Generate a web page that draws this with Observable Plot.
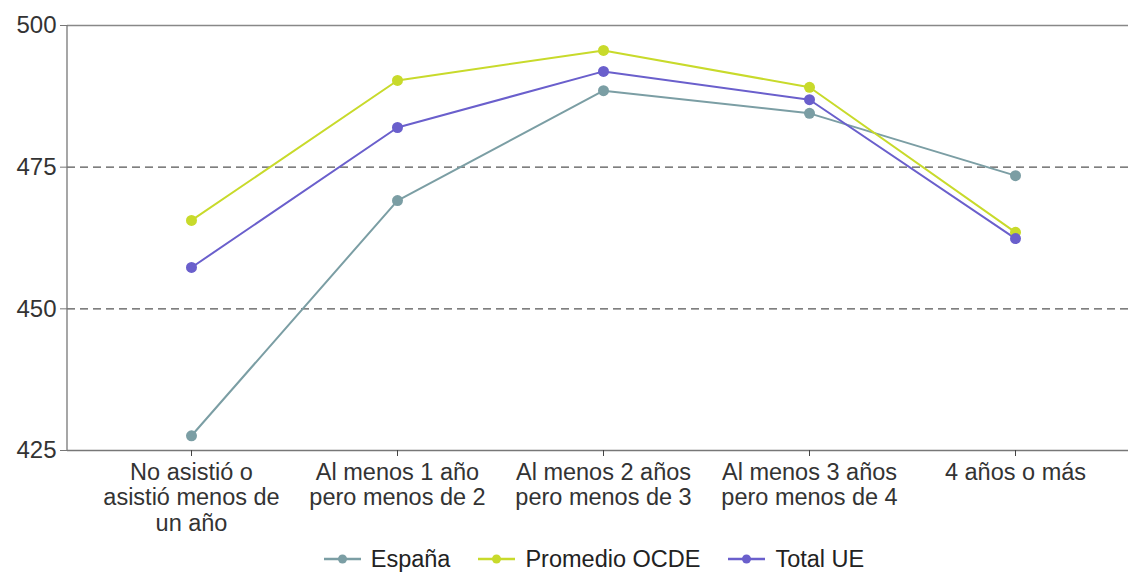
<!DOCTYPE html>
<html><head><meta charset="utf-8">
<script src="https://cdn.jsdelivr.net/npm/d3@7"></script>
<script src="https://cdn.jsdelivr.net/npm/@observablehq/plot@0.6"></script>
<style>
body{margin:0;background:#fff;font-family:"Liberation Sans",Arial,sans-serif;}
#legend{display:flex;justify-content:center;gap:28px;font-size:23.5px;color:#222;height:34px;align-items:center;padding-left:60px;padding-top:4px;box-sizing:border-box;}
#legend span{display:flex;align-items:center;gap:10px;}
</style></head><body>
<div id="chart"></div>
<div id="legend"></div>
<script>
const categories = ["No asistió o\nasistió menos de\nun año","Al menos 1 año\npero menos de 2","Al menos 2 años\npero menos de 3","Al menos 3 años\npero menos de 4","4 años o más"];
const seriesNames = ["España","Promedio OCDE","Total UE"];
const espana = [427.6, 469.1, 488.5, 484.5, 473.5];
const ocde = [465.6, 490.3, 495.6, 489.1, 463.5];
const ue = [457.3, 482.0, 491.9, 486.9, 462.4];
const colors = ["#7b9ea4","#c8da2b","#6a5fcc"];
const yTicks = [425,450,475,500];

const data = [];
[espana, ocde, ue].forEach((arr,i)=>arr.forEach((v,j)=>data.push({serie:seriesNames[i], cat:categories[j], v})));

const chart = Plot.plot({
  width:1128, height:540,
  marginLeft:67, marginRight:0, marginTop:25, marginBottom:90,
  style:{fontFamily:"Liberation Sans, Arial, sans-serif", background:"#fff"},
  x:{type:"point", domain:categories, range:[190,1015], padding:0},
  y:{domain:[425,500]},
  color:{domain:seriesNames, range:colors},
  marks:[
    Plot.ruleY([450,475],{stroke:"#555", strokeDasharray:"8,5", strokeWidth:1.3}),
    Plot.ruleY([500],{stroke:"#888", strokeWidth:1.3}),
    Plot.ruleY([425],{stroke:"#777", strokeWidth:1.3}),
    Plot.axisY({ticks:yTicks, tickSize:7, fontSize:24, tickPadding:4, label:null, stroke:"#777", color:"#333"}),
    Plot.axisX({tickSize:6, fontSize:23.5, label:null, lineHeight:1.07, tickPadding:6, stroke:"#444", color:"#333"}),
    Plot.line(data,{x:"cat", y:"v", stroke:"serie", z:"serie", strokeWidth:2}),
    Plot.dot(data,{x:"cat", y:"v", fill:"serie", r:5.5})
  ]
});
const svg = d3.select(chart);
document.getElementById("chart").appendChild(chart);
svg.append("line").attr("x1",67).attr("x2",67).attr("y1",25).attr("y2",450).attr("stroke","#777").attr("stroke-width",1.3);

const lg = document.getElementById("legend");
seriesNames.forEach((n,i)=>{
  const s=document.createElement("span");
  s.innerHTML=`<svg width="37" height="12"><line x1="0" x2="37" y1="6" y2="6" stroke="${colors[i]}" stroke-width="2.5"/><circle cx="18.5" cy="6" r="4.5" fill="${colors[i]}"/></svg>${n}`;
  lg.appendChild(s);
});
</script></body></html>
